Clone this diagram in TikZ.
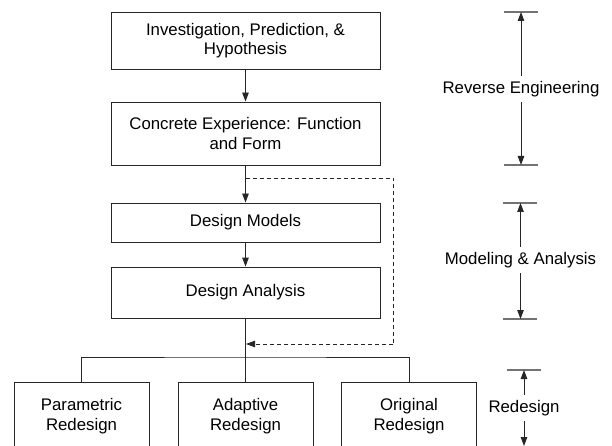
\documentclass[tikz,border=0pt]{standalone}
\usepackage{fontspec}
\setmainfont{Liberation Sans}
\usetikzlibrary{arrows.meta}
\begin{document}
\begin{tikzpicture}[x=1pt,y=-1pt,
  every node/.style={font=\fontsize{16.8}{19.5}\selectfont},
  box/.style={draw=black!85,line width=0.9pt,align=center,inner sep=0pt},
  conn/.style={draw=black!85,line width=0.9pt},
  arr/.style={conn,-{Triangle[length=9pt,width=6.5pt]}},
  bar/.style={draw=black!55,line width=1.6pt},
  dimtxt/.style={fill=white,inner sep=5pt}]
\clip (0,0) rectangle (612,446);
\fill[white] (0,0) rectangle (612,446);
% main column
\node[box,minimum width=269pt,minimum height=57pt] (ip) at (245.5,40.5) {Investigation, Prediction, \&\\Hypothesis};
\node[box,minimum width=269pt,minimum height=63pt] (ce) at (245.5,133.5) {Concrete Experience: Function\\and Form};
\node[box,minimum width=269pt,minimum height=39pt] (dm) at (245.5,222.5) {Design Models};
\node[box,minimum width=269pt,minimum height=51pt] (da) at (245.5,292.5) {Design Analysis};
% bottom boxes (cut by the frame)
\node[box,minimum width=135pt,minimum height=68pt] (pr) at (81.5,416) {Parametric\\Redesign};
\node[box,minimum width=135pt,minimum height=68pt] (ar) at (245.5,416) {Adaptive\\Redesign};
\node[box,minimum width=135pt,minimum height=68pt] (or) at (409,416) {Original\\Redesign};
% connectors
\draw[arr] (ip.south) -- (ce.north);
\draw[arr] (ce.south) -- (dm.north);
\draw[arr] (dm.south) -- (da.north);
\coordinate (j) at (245.5,357);
\coordinate (fb) at (245.5,178);
\coordinate (fbr) at (393,178);
\coordinate (fbb) at (393,344);
\coordinate (fbe) at (246,344);
\draw[conn,dash pattern=on 4pt off 3pt] (fb) -- (fbr) -- (fbb);
\draw[conn,dash pattern=on 4pt off 3pt,-{Triangle[length=9pt,width=6.5pt]}] (fbb) -- (fbe);
\draw[conn] (da.south) -- (ar.north);
\draw[conn] (pr.north) |- (j) -| (or.north);
% dimension markers
\coordinate (r1) at (521,12);
\coordinate (r2) at (521,165);
\draw[bar] (504,12) -- (538,12);
\draw[bar] (504,165) -- (538,165);
\node[dimtxt] (rt) at (521,89) {Reverse Engineering};
\draw[arr] (rt.north) -- (r1);
\draw[arr] (rt.south) -- (r2);
\coordinate (m1) at (520.5,203);
\coordinate (m2) at (520.5,319);
\draw[bar] (503,203) -- (537,203);
\draw[bar] (503,319) -- (537,319);
\node[dimtxt] (mt) at (520.5,260) {Modeling \& Analysis};
\draw[arr] (mt.north) -- (m1);
\draw[arr] (mt.south) -- (m2);
\coordinate (d1) at (524,370);
\coordinate (d2) at (524,446);
\draw[bar] (507,370) -- (541,370);
\node[dimtxt] (dt) at (524,408) {Redesign};
\draw[arr] (dt.north) -- (d1);
\draw[arr] (dt.south) -- (d2);
\end{tikzpicture}
\end{document}
